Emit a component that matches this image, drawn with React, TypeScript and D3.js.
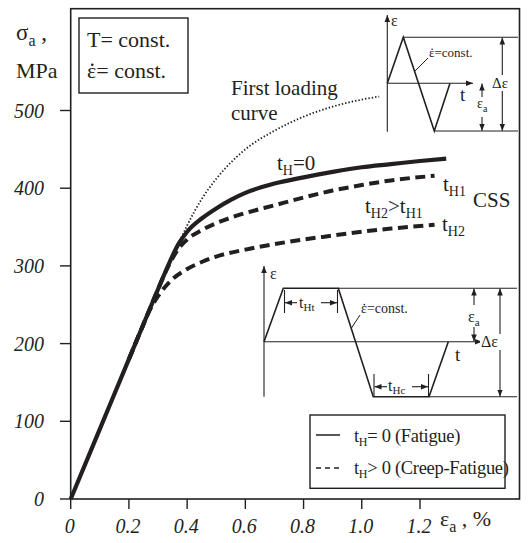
import React from "react";
import * as d3 from "d3";

const xTicks = [0, 0.2, 0.4, 0.6, 0.8, 1.0, 1.2];
const xTickLabels = ["0", "0.2", "0.4", "0.6", "0.8", "1.0", "1.2"];
const yTicks = [0, 100, 200, 300, 400, 500];
const yTickLabels = ["0", "100", "200", "300", "400", "500"];

const fatigueStrain = [0, 0.1, 0.2, 0.3, 0.34, 0.37, 0.40, 0.45, 0.50, 0.55, 0.60, 0.70, 0.80, 0.90, 1.00, 1.10, 1.20, 1.29];
const fatigueStress = [0, 90, 180, 270, 305, 328, 344, 361, 374, 385, 394, 406, 414, 421, 427, 431, 435, 438];

const firstLoadStrain = [0.37, 0.40, 0.45, 0.50, 0.55, 0.60, 0.70, 0.80, 0.90, 1.00, 1.06];
const firstLoadStress = [328, 352, 386, 412, 433, 450, 474, 492, 505, 514, 518];

const tH1Strain = [0.2, 0.25, 0.3, 0.34, 0.37, 0.40, 0.45, 0.50, 0.55, 0.60, 0.70, 0.80, 0.90, 1.00, 1.10, 1.25];
const tH1Stress = [180, 225, 270, 303, 322, 334, 346, 355, 362, 368, 378, 388, 397, 404, 410, 416];

const tH2Strain = [0.2, 0.24, 0.27, 0.30, 0.35, 0.40, 0.45, 0.50, 0.60, 0.70, 0.80, 0.90, 1.00, 1.10, 1.25];
const tH2Stress = [180, 216, 242, 261, 283, 296, 305, 312, 321, 328, 334, 339, 344, 348, 353];

const INK = "#231f20";
const SERIF =
  "'Liberation Serif', 'DejaVu Serif', 'Noto Serif', Tinos, FreeSerif, 'Nimbus Roman', 'Times New Roman', Times, serif";

const x = d3.scaleLinear().domain([0, 1.2]).range([70.7, 420]);
const y = d3.scaleLinear().domain([0, 500]).range([499, 110.5]);

const zip = (xs: number[], ys: number[]) => xs.map((v, i) => [v, ys[i]] as [number, number]);
const line = d3
  .line<[number, number]>()
  .x((d) => x(d[0]))
  .y((d) => y(d[1]))
  .curve(d3.curveMonotoneX);

const T = (props: any) => <text {...props} style={{ fontFamily: SERIF, ...(props.style || {}) }} fill={INK} />;

const Arrow = ({ x1, y1, x2, y2 }: { x1: number; y1: number; x2: number; y2: number }) => (
  <line x1={x1} y1={y1} x2={x2} y2={y2} stroke={INK} strokeWidth={1.1} markerEnd="url(#ah)" />
);

const EpsDot = ({ x0, y0, size, text }: { x0: number; y0: number; size: number; text: string }) => (
  <g>
    <T x={x0} y={y0} fontSize={size}>
      {"\u03B5"}
      {text}
    </T>
    <circle cx={x0 + size * 0.24} cy={y0 - size * 0.6} r={size * 0.06} fill={INK} />
  </g>
);

export default function App() {
  const frame = { l: 70.7, t: 8.7, r: 519.5, b: 499 };
  return (
    <svg width={528} height={543} style={{ display: "block", position: "absolute", left: 0, top: 0 }}>
      <defs>
        <marker id="ah" viewBox="0 0 10 10" refX="10" refY="5" markerWidth="7" markerHeight="7" markerUnits="userSpaceOnUse" orient="auto">
          <path d="M0,1 L10,5 L0,9 z" fill={INK} />
        </marker>
        <marker id="ahs" viewBox="0 0 10 10" refX="10" refY="5" markerWidth="7" markerHeight="7" markerUnits="userSpaceOnUse" orient="auto-start-reverse">
          <path d="M0,1 L10,5 L0,9 z" fill={INK} />
        </marker>
      </defs>
      <rect x={0} y={0} width={528} height={543} fill="#fff" />

      {/* frame */}
      <rect x={frame.l} y={frame.t} width={frame.r - frame.l} height={frame.b - frame.t} fill="none" stroke={INK} strokeWidth={1.6} />

      {/* y ticks */}
      {yTicks.map((t, i) => (
        <g key={"y" + t}>
          <line x1={60} x2={frame.l} y1={y(t)} y2={y(t)} stroke={INK} strokeWidth={1.4} />
          <T x={44} y={y(t) + 7} textAnchor="end" fontStyle="italic" fontSize={20}>
            {yTickLabels[i]}
          </T>
        </g>
      ))}
      {/* x ticks */}
      {xTicks.map((t, i) => (
        <g key={"x" + t}>
          <line x1={x(t)} x2={x(t)} y1={frame.b} y2={509} stroke={INK} strokeWidth={1.4} />
          <T x={x(t) - 1} y={533} textAnchor="middle" fontStyle="italic" fontSize={20}>
            {xTickLabels[i]}
          </T>
        </g>
      ))}

      {/* axis titles */}
      <T x={16} y={40} fontSize={23}>
        σ<tspan fontSize={16} dy={6}>a</tspan>
        <tspan dy={-6}> ,</tspan>
      </T>
      <T x={16} y={78} fontSize={22}>MPa</T>
      <T x={440} y={526} fontSize={22}>
        ε<tspan fontSize={16} dy={6}>a</tspan>
        <tspan dy={-6}> , %</tspan>
      </T>

      {/* condition box */}
      <rect x={79} y={18} width={109} height={75} fill="#fff" stroke={INK} strokeWidth={1.4} />
      <T x={87} y={47} fontSize={22}>T= const.</T>
      <EpsDot x0={87} y0={78} size={22} text="= const." />

      {/* curves */}
      <path d={line(zip(firstLoadStrain, firstLoadStress)) || ""} fill="none" stroke={INK} strokeWidth={1.8} strokeDasharray="1.4 2" />
      <path d={line(zip(tH2Strain, tH2Stress)) || ""} fill="none" stroke={INK} strokeWidth={4} strokeDasharray="10 5.5" />
      <path d={line(zip(tH1Strain, tH1Stress)) || ""} fill="none" stroke={INK} strokeWidth={4} strokeDasharray="10 5.5" />
      <path d={line(zip(fatigueStrain, fatigueStress)) || ""} fill="none" stroke={INK} strokeWidth={4.2} />

      {/* curve labels */}
      <T x={231} y={95} fontSize={21}>First loading</T>
      <T x={231} y={120} fontSize={21}>curve</T>
      <T x={277} y={170} fontSize={21}>
        t<tspan fontSize={14} dy={5}>H</tspan>
        <tspan dy={-5}>=0</tspan>
      </T>
      <T x={443} y={191} fontSize={21}>
        t<tspan fontSize={14} dy={5}>H1</tspan>
      </T>
      <T x={473} y={207} fontSize={21}>CSS</T>
      <T x={365} y={213} fontSize={21}>
        t<tspan fontSize={14} dy={5}>H2</tspan>
        <tspan dy={-5}>&gt;t</tspan>
        <tspan fontSize={14} dy={5}>H1</tspan>
      </T>
      <T x={442} y={231} fontSize={21}>
        t<tspan fontSize={14} dy={5}>H2</tspan>
      </T>

      {/* top-right inset: fatigue waveform */}
      <g>
        <Arrow x1={387.3} y1={131.7} x2={387.3} y2={15} />
        <T x={391} y={26} fontSize={16}>ε</T>
        <Arrow x1={387.3} y1={83.3} x2={473} y2={83.3} />
        <T x={460} y={101} fontSize={19}>t</T>
        <polyline points="387.3,83.3 403.3,37.3 434.3,131 450,83.3" fill="none" stroke={INK} strokeWidth={1.6} />
        <line x1={403.3} y1={37.3} x2={518} y2={37.3} stroke={INK} strokeWidth={1.1} />
        <line x1={434.3} y1={131} x2={518} y2={131} stroke={INK} strokeWidth={1.1} />
        <line x1={502.3} y1={37.5} x2={502.3} y2={130.8} stroke={INK} strokeWidth={1.1} markerStart="url(#ahs)" markerEnd="url(#ah)" />
        <rect x={491} y={75} width={22} height={16} fill="#fff" />
        <T x={492} y={88} fontSize={15}>Δε</T>
        <Arrow x1={482} y1={97} x2={482} y2={83.6} />
        <T x={477} y={108} fontSize={14}>
          ε<tspan fontSize={10} dy={4}>a</tspan>
        </T>
        <Arrow x1={482} y1={117} x2={482} y2={130.7} />
        <line x1={428} y1={58} x2={415} y2={71} stroke={INK} strokeWidth={1} />
        <EpsDot x0={429} y0={57} size={13} text="=const." />
      </g>

      {/* bottom inset: creep-fatigue waveform */}
      <g>
        <Arrow x1={264} y1={396.7} x2={264} y2={266} />
        <T x={270} y={279} fontSize={16}>ε</T>
        <Arrow x1={264} y1={341.7} x2={482} y2={341.7} />
        <T x={455} y={361} fontSize={19}>t</T>
        <polyline
          points="264,341.7 283.3,288.3 338.3,288.3 373.3,396.7 429,396.7 448.3,341.7"
          fill="none"
          stroke={INK}
          strokeWidth={1.6}
        />
        <line x1={338.3} y1={288.3} x2={517} y2={288.3} stroke={INK} strokeWidth={1.1} />
        <line x1={429} y1={396.7} x2={517} y2={396.7} stroke={INK} strokeWidth={1.1} />
        {/* tHt */}
        <line x1={284.5} y1={290} x2={284.5} y2={313} stroke={INK} strokeWidth={1.1} />
        <line x1={337.5} y1={290} x2={337.5} y2={313} stroke={INK} strokeWidth={1.1} />
        <Arrow x1={297} y1={302.7} x2={285} y2={302.7} />
        <Arrow x1={321} y1={302.7} x2={337} y2={302.7} />
        <T x={299} y={308} fontSize={16}>
          t<tspan fontSize={11} dy={3}>Ht</tspan>
        </T>
        {/* tHc */}
        <line x1={374} y1={374} x2={374} y2={396.7} stroke={INK} strokeWidth={1.1} />
        <line x1={428.5} y1={374} x2={428.5} y2={396.7} stroke={INK} strokeWidth={1.1} />
        <Arrow x1={387} y1={386.7} x2={374.5} y2={386.7} />
        <Arrow x1={412} y1={386.7} x2={428} y2={386.7} />
        <T x={388} y={391} fontSize={16}>
          t<tspan fontSize={11} dy={3}>Hc</tspan>
        </T>
        <line x1={360} y1={315} x2={351.5} y2={328} stroke={INK} strokeWidth={1} />
        <EpsDot x0={361} y0={313} size={14} text="=const." />
        <Arrow x1={474} y1={305} x2={474} y2={288.6} />
        <T x={468} y={322} fontSize={16}>
          ε<tspan fontSize={11} dy={4}>a</tspan>
        </T>
        <Arrow x1={474} y1={327} x2={474} y2={341.4} />
        <line x1={500} y1={288.5} x2={500} y2={396.5} stroke={INK} strokeWidth={1.1} markerStart="url(#ahs)" markerEnd="url(#ah)" />
        <rect x={480} y={334} width={22} height={16} fill="#fff" />
        <T x={481} y={347} fontSize={16}>Δε</T>
      </g>

      {/* legend */}
      <rect x={310} y={415} width={195} height={73.3} fill="#fff" stroke={INK} strokeWidth={1.4} />
      <line x1={316} x2={340} y1={435} y2={435} stroke={INK} strokeWidth={1.5} />
      <line x1={316} x2={340} y1={468} y2={468} stroke={INK} strokeWidth={1.5} strokeDasharray="5 4" />
      <T x={354} y={442} fontSize={18.5} letterSpacing={-0.3}>
        t<tspan fontSize={12} dy={4}>H</tspan>
        <tspan dy={-4}>= 0 (Fatigue)</tspan>
      </T>
      <T x={354} y={474} fontSize={18.5} letterSpacing={-0.3}>
        t<tspan fontSize={12} dy={4}>H</tspan>
        <tspan dy={-4}>&gt; 0 (Creep-Fatigue)</tspan>
      </T>
    </svg>
  );
}
